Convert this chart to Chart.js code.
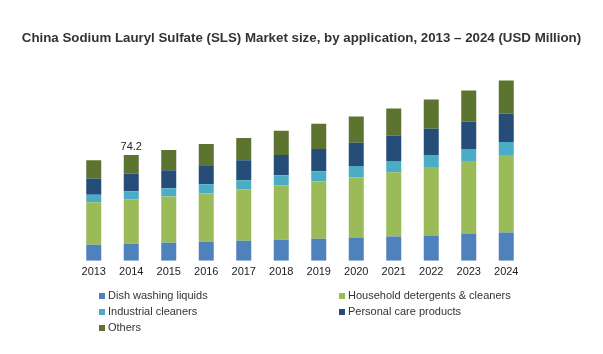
<!DOCTYPE html>
<html>
<head>
<meta charset="utf-8">
<script src="https://cdn.jsdelivr.net/npm/chart.js@4.4.1/dist/chart.umd.min.js"></script>
<style>
  html, body { margin: 0; padding: 0; background: #fff; }
  #wrap { position: relative; width: 603px; height: 354px; }
  #chart { position: absolute; left: 0; top: 0; }
  #title { position: absolute; left: 0; top: 30px; width: 603px; text-align: center;
    font: bold 13.3px 'Liberation Sans', Arial, sans-serif; color: #333; white-space: nowrap; }
  #legend { position: absolute; left: 99px; top: 288px; width: 420px;
    display: grid; grid-template-columns: 240px 180px; row-gap: 2px;
    font: 11px 'Liberation Sans', Arial, sans-serif; color: #333; }
  #legend div { height: 14px; line-height: 14px; white-space: nowrap; }
  #legend span { display: inline-block; width: 6px; height: 6px; margin-right: 3px; vertical-align: 0px; }
</style>
</head>
<body>
<div id="wrap">
  <canvas id="chart" width="603" height="354"></canvas>
  <div id="title">China Sodium Lauryl Sulfate (SLS) Market size, by application, 2013 – 2024 (USD Million)</div>
  <div id="legend"></div>
</div>
<script>
// China SLS market by application (USD Million)
const years = ['2013','2014','2015','2016','2017','2018','2019','2020','2021','2022','2023','2024'];
const dishWashing = [11.3, 12.0, 12.7, 13.4, 14.1, 14.8, 15.5, 16.3, 17.0, 17.7, 19.1, 19.8];
const household   = [29.7, 31.1, 32.5, 33.9, 36.0, 38.2, 40.3, 42.4, 45.2, 48.1, 50.9, 54.4];
const industrial  = [5.4, 5.7, 5.7, 6.4, 6.4, 7.1, 7.1, 7.8, 7.8, 8.5, 8.5, 9.2];
const personal    = [11.3, 12.5, 12.7, 13.4, 14.1, 14.1, 15.5, 16.3, 17.7, 18.4, 19.1, 19.8];
const others      = [12.9, 12.9, 14.1, 14.8, 15.5, 17.0, 17.7, 18.4, 19.1, 20.5, 21.9, 23.3];
const labelIndex = 1; // total shown above 2014

const colors = {
  dish: '#4f81bd', household: '#9bbb59', industrial: '#4bacc6',
  personal: '#264d78', others: '#5c7430', text: '#333333'
};

const datasets = [
  { label: 'Dish washing liquids', data: dishWashing, backgroundColor: colors.dish },
  { label: 'Household detergents & cleaners', data: household, backgroundColor: colors.household },
  { label: 'Industrial cleaners', data: industrial, backgroundColor: colors.industrial },
  { label: 'Personal care products', data: personal, backgroundColor: colors.personal },
  { label: 'Others', data: others, backgroundColor: colors.others }
].map(d => Object.assign(d, { barPercentage: 0.4, categoryPercentage: 1, borderWidth: 0 }));

// total label above the chosen bar
const totalLabel = {
  id: 'totalLabel',
  afterDatasetsDraw(chart) {
    const meta = chart.getDatasetMeta(datasets.length - 1);
    const bar = meta.data[labelIndex];
    const total = datasets.reduce((s, d) => s + d.data[labelIndex], 0);
    const ctx = chart.ctx;
    ctx.save();
    ctx.font = "11px 'Liberation Sans', Arial, sans-serif";
    ctx.fillStyle = '#222';
    ctx.textAlign = 'center';
    ctx.textBaseline = 'bottom';
    ctx.fillText(total.toFixed(1), bar.x, bar.y - 3);
    ctx.restore();
  }
};

new Chart(document.getElementById('chart'), {
  type: 'bar',
  data: { labels: years, datasets: datasets },
  plugins: [totalLabel],
  options: {
    responsive: false, animation: false,
    layout: { padding: { left: 75, right: 78, top: 57, bottom: 70 } },
    plugins: {
      legend: { display: false },
      tooltip: { enabled: false },
      title: { display: false }
    },
    scales: {
      x: {
        stacked: true,
        grid: { display: false, drawTicks: false }, border: { display: false },
        ticks: { color: '#222', padding: 5, font: { family: "'Liberation Sans', Arial, sans-serif", size: 11 } }
      },
      y: { stacked: true, display: false, min: 0, max: 143 }
    }
  }
});

// two-column legend
const legendEl = document.getElementById('legend');
datasets.forEach(d => {
  const item = document.createElement('div');
  item.innerHTML = '<span style="background:' + d.backgroundColor + '"></span>' + d.label;
  legendEl.appendChild(item);
});
</script>
</body>
</html>
